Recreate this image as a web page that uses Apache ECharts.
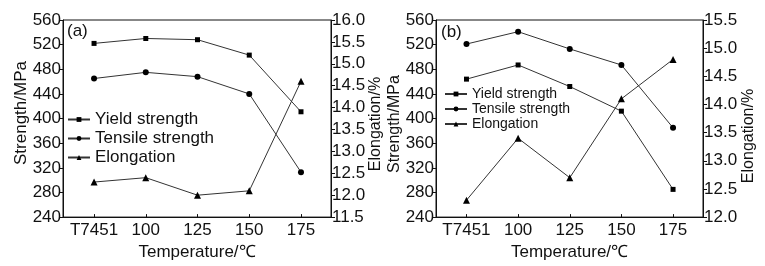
<!DOCTYPE html>
<html>
<head>
<meta charset="utf-8">
<script src="https://cdn.jsdelivr.net/npm/echarts@6/dist/echarts.min.js"></script>
<style>
html,body{margin:0;padding:0;background:#fff;}
#chart{width:765px;height:266px;}
</style>
</head>
<body>
<div id="chart"></div>
<script>
// categories (temperature)
var categories = ['T7451', '100', '125', '150', '175'];

// panel (a)
var yieldA = [522, 530, 528, 503, 411];
var tensileA = [465, 475, 468, 440, 313];
var elongA = [12.3, 12.4, 12.0, 12.1, 14.6];

// panel (b)
var yieldB = [464, 487, 452, 412, 285];
var tensileB = [521, 541, 513, 487, 385];
var elongB = [12.3, 13.4, 12.7, 14.1, 14.8];

var font = 'Liberation Sans, Arial, sans-serif';
var ink = '#111';

function pts(arr) {
    var out = [];
    for (var i = 0; i < arr.length; i++) out.push([i, arr[i]]);
    return out;
}

function xAxisFor(idx, min, max) {
    return {
        type: 'value', gridIndex: idx, min: min, max: max,
        name: 'Temperature/℃', nameLocation: 'middle', nameGap: 20,
        nameTextStyle: {color: ink, fontSize: 17, fontFamily: font},
        axisLine: {show: true, onZero: false, lineStyle: {color: ink, width: 1}},
        axisTick: {show: true, inside: true, length: 3, customValues: [0, 1, 2, 3, 4], lineStyle: {color: ink}},
        axisLabel: {customValues: [0, 1, 2, 3, 4], color: ink, fontSize: 17, fontFamily: font, margin: 5,
            formatter: function (v) { return categories[Math.round(v)]; }},
        splitLine: {show: false}
    };
}

function leftAxis(idx) {
    return {
        type: 'value', gridIndex: idx, position: 'left', min: 240, max: 560, interval: 40,
        axisLine: {show: true, onZero: false, lineStyle: {color: ink}},
        axisTick: {show: true, inside: false, length: 4, lineStyle: {color: ink}},
        axisLabel: {color: ink, fontSize: 17, fontFamily: font, margin: 2},
        splitLine: {show: false}
    };
}

function rightAxis(idx, min, max) {
    return {
        type: 'value', gridIndex: idx, position: 'right', min: min, max: max, interval: 0.5,
        axisLine: {show: true, onZero: false, lineStyle: {color: ink}},
        axisTick: {show: true, inside: false, length: 4, lineStyle: {color: ink}},
        axisLabel: {color: ink, fontSize: 17, fontFamily: font, margin: 1,
            formatter: function (v) { return v.toFixed(1); }},
        splitLine: {show: false}
    };
}

function line(name, data, x, y, symbol, size) {
    return {
        name: name, type: 'line', xAxisIndex: x, yAxisIndex: y,
        data: pts(data), symbol: symbol, symbolSize: size,
        lineStyle: {color: '#333', width: 1},
        itemStyle: {color: '#000'},
        animation: false
    };
}

function vname(text, x, y, size) {
    return {
        type: 'text', x: x, y: y, rotation: Math.PI / 2,
        style: {text: text, fill: ink, fontSize: size, fontFamily: font, align: 'center', verticalAlign: 'middle'}
    };
}

var chart = echarts.init(document.getElementById('chart'));
chart.setOption({
    animation: false,
    title: [
        {text: '(a)', left: 67, top: 23, padding: 0, textStyle: {fontSize: 17, fontWeight: 'normal', color: ink, fontFamily: font}},
        {text: '(b)', left: 441, top: 24, padding: 0, textStyle: {fontSize: 17, fontWeight: 'normal', color: ink, fontFamily: font}}
    ],
    grid: [
        {left: 63, right: 434, top: 20, bottom: 42, show: true, borderColor: ink, borderWidth: 1},
        {left: 436, right: 62, top: 20, bottom: 42, show: true, borderColor: ink, borderWidth: 1}
    ],
    graphic: [
        vname('Strength/MPa', 21, 113, 17),
        vname('Elongation/%', 376, 124, 16),
        vname('Strength/MPa', 395, 124, 16),
        vname('Elongation/%', 749, 136, 16)
    ],
    legend: [
        {orient: 'vertical', left: 67, top: 111, padding: 0, itemGap: 2, itemWidth: 22, itemHeight: 6,
            textStyle: {fontSize: 17, color: ink, fontFamily: font},
            data: ['Yield strength', 'Tensile strength', 'Elongation']},
        {orient: 'vertical', left: 444, top: 87, padding: 0, itemGap: 1, itemWidth: 22, itemHeight: 6,
            textStyle: {fontSize: 14, color: ink, fontFamily: font},
            data: ['Yield strength', 'Tensile strength', 'Elongation']}
    ],
    xAxis: [xAxisFor(0, -0.6, 4.58), xAxisFor(1, -0.59, 4.58)],
    yAxis: [
        leftAxis(0), rightAxis(0, 11.5, 16),
        leftAxis(1), rightAxis(1, 12, 15.5)
    ],
    series: [
        line('Yield strength', yieldA, 0, 0, 'rect', 5),
        line('Tensile strength', tensileA, 0, 0, 'circle', 6),
        line('Elongation', elongA, 0, 1, 'triangle', 7),
        line('Yield strength', yieldB, 1, 2, 'rect', 5),
        line('Tensile strength', tensileB, 1, 2, 'circle', 6),
        line('Elongation', elongB, 1, 3, 'triangle', 7)
    ]
});
</script>
</body>
</html>
